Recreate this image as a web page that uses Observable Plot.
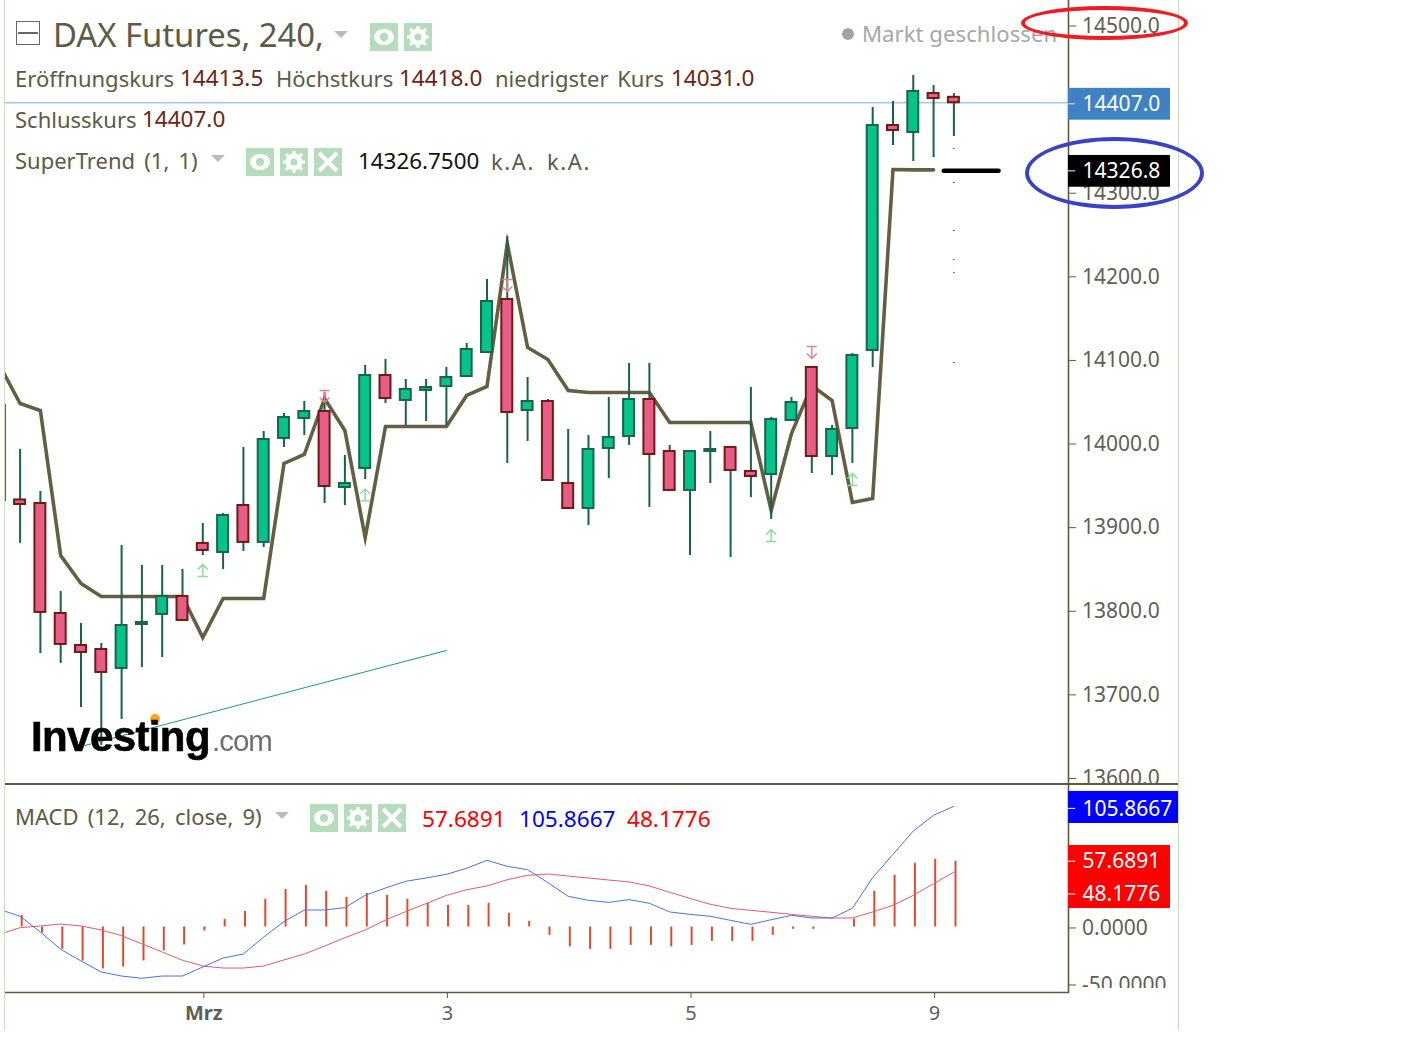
<!DOCTYPE html>
<html><head><meta charset="utf-8">
<script src="https://cdn.jsdelivr.net/npm/d3@7"></script>
<script src="https://cdn.jsdelivr.net/npm/@observablehq/plot@0.6"></script>
<style>
html,body{margin:0;padding:0;background:#fff;overflow:hidden}
#page{position:relative;width:1406px;height:1056px;overflow:hidden;font-family:"Noto Sans",sans-serif}
#page>svg{position:absolute;left:0;background:transparent}
.t{position:absolute;white-space:pre;line-height:40px;height:40px}
.o{position:absolute}
</style></head><body><div id="page"></div>
<script>
// ---- price panel data (candle index -1 is clipped at the left edge) ----
const openPrice=[14044.9,13931.9,13927.7,13796.2,13757.9,13753.1,13730.4,13783,13795,13816.5,13879.9,13869.1,13925.3,13881.1,14005.5,14029.4,14037.7,13946.8,13969.6,14080.8,14050.9,14062.9,14067.6,14079.6,14108.3,14171.7,14038.9,14049.7,13951.6,13921.7,13993.5,14007.8,14052.1,13989.9,13943.3,13989.9,13994.7,13966,13962.4,14027,14090.4,13983.9,14017.4,14110.7,14379.8,14371.4,14418.1,14413.5];
const closePrice=[13931.3,13926.5,13797.4,13759.1,13749.5,13725.6,13781.8,13785.4,13816.5,13787.8,13871.5,13913.4,13881.1,14004.3,14030.6,14037.7,13948,13951.6,14080.8,14053.3,14064.1,14066.4,14078.4,14111.9,14169.3,14036.5,14049.7,13955.2,13921.7,13992.3,14006.6,14052.1,13986.3,13943.3,13989.9,13992.3,13967.2,13960,14028.2,14048.5,13983.9,14016.2,14104.7,14379.8,14373.8,14420.5,14412.1,14407];
const highPrice=[14044.9,13992.3,13942.1,13822.5,13784.2,13760.3,13877.5,13853.6,13853.6,13848.8,13903.8,13915.8,13994.7,14013.8,14035.4,14049.7,14060.5,13985.1,14092.8,14099.9,14076,14076,14090.4,14119.1,14195.6,14247,14078.4,14052.1,14016.2,14009,14054.5,14095.2,14095.2,13997.1,13989.9,14013.8,13994.7,14066.4,14030.6,14054.5,14090.4,14021,14107.1,14401.3,14408.5,14439.6,14427.6,14418];
const lowPrice=[13931.3,13879.9,13748.3,13736.4,13683.7,13638.3,13669.4,13731.6,13743.5,13787.8,13865.5,13848.8,13870.3,13875.1,13994.7,14009,13927.7,13925.3,13956.4,14047.3,14021,14025.8,14021,14079.6,14108.3,13975.6,14001.9,13955.2,13921.7,13901.4,13957.6,13997.1,13922.9,13942.1,13865.5,13951.6,13863.1,13934.9,13908.6,14027,13963.6,13961.2,13975.6,14090.4,14355.9,14336.7,14341.5,14366.6];
const superTrend=[14092.8,14047.3,14038.9,13865.5,13832,13816.5,13816.5,13816.5,13816.5,13816.5,13767.4,13814.1,13814.1,13814.1,13975.6,13986.3,14053.3,14015,13887,14019.8,14019.8,14019.8,14019.8,14056.9,14067.6,14238.7,14114.3,14099.9,14062.9,14060.5,14060.5,14060.5,14060.5,14024.6,14024.6,14024.6,14024.6,14024.6,13919.3,14011.4,14068.8,14050.9,13928.9,13933.7,14327.2,14326.75,14326.75];
const superTrendNowIndex=[45.5,48.2];
const superTrendNow=[14326.75,14326.75];
const upIndex=[9,17,37,41];
const upPrice=[13847.6,13938,13889.4,13956.4];
const downIndex=[15,24,39];
const downPrice=[14055.7,14188.4,14108.3];
const speckPrice=[14352.3,14311.6,14254.2,14219.5,14204,14096.3];
const trendIndex=[3.2,21];
const trendPrice=[13638.3,13751.9];
const priceTicks=[14500,14300,14200,14100,14000,13900,13800,13700,13600];
const lastClose=14407;
// ---- MACD panel data (index -1 is the clipped start) ----
const histogram=[10.2,-5.3,-19.6,-29.8,-36.8,-35.1,-29.8,-21,-15.8,-3.5,6.7,13.7,24.3,33,36.5,31.3,26,29.5,27.8,24.3,20.8,19,19,20.8,12,5,-7.3,-17.5,-19.6,-19.6,-16.1,-16.1,-17.5,-16.1,-12.6,-12.6,-12.6,-7.3,-2,-2,0,7,31.3,45.3,55.9,59.4,57.6891];
const macdLine=[13.7,9.4,-4.4,-19.6,-29.8,-39.5,-43,-45,-43,-43,-35.1,-27.2,-23.7,-8.8,4.7,14.9,14.9,17,27.8,34.2,40.1,43,46.2,51.5,58.5,53.2,50.3,38.9,26.9,23.4,21.6,24,20.8,13.2,11.1,9.4,5.8,2.3,6.4,10.2,7.9,7.9,16.4,43.3,63.7,84.2,98,105.8667];
const signalLine=[-4.7,-0.6,0.9,2.6,0.9,-2.6,-7.6,-14.9,-21.9,-29.2,-34.2,-36,-36,-34.2,-28.9,-23.7,-16.7,-9.4,-2.6,6.1,13.5,20.5,27.8,32.7,36,41.5,45.3,46.5,44.7,43,41.2,39.5,36,30.4,25.1,19.9,16.4,14.6,12.9,11.1,9.4,7.9,7.9,13.2,19,27.8,38,48.1776];
const macdTicks=[0,-50];
// ---- time axis ----
const dayIndex=[21,33,45];
const dayLabels=["3","5","9"];
const monthIndex=[9];
const monthLabels=["Mrz"];

const firstIndex=-1, lineStart=-0.719;
const XD=[-0.719,51.646], tagX1=51.646, tagX2=56.67, tagX2b=57.07, tagTextX=52.34, tickEnd=52;
const FONT='"Noto Sans",sans-serif';
const AX="#5f5b3f";
const page=document.getElementById("page");

const candles=openPrice.map((o,k)=>({i:k+firstIndex,open:o,close:closePrice[k],high:highPrice[k],low:lowPrice[k]}));
const isUp=d=>d.close>d.open;
const st=superTrend.map((v,k)=>({i:k+firstIndex,v}));
const upSym={draw(c){c.moveTo(0,6);c.lineTo(0,-6);c.moveTo(-5,-1);c.lineTo(0,-6);c.lineTo(5,-1);c.moveTo(-5,6);c.lineTo(5,6);}};
const downSym={draw(c){c.moveTo(0,-6);c.lineTo(0,6);c.moveTo(-5,1);c.lineTo(0,6);c.lineTo(5,1);c.moveTo(-5,-6);c.lineTo(5,-6);}};

const priceTags=[{v:14407,label:"14407.0",fill:"#3f82c4"},{v:14326.75,label:"14326.8",fill:"#000"}];
const tagHalf=19;

const main=Plot.plot({
  width:1406,height:784,marginLeft:5,marginRight:338,marginTop:0,marginBottom:0,
  style:{background:"transparent",fontFamily:FONT,overflow:"hidden"},
  x:{domain:XD,axis:null},
  y:{domain:[13591.6,14529.3],axis:null},
  marks:[
    Plot.ruleY([lastClose],{stroke:"#a3c8ef",strokeWidth:1.4}),
    Plot.line(trendIndex.map((x,k)=>({x,y:trendPrice[k]})),{x:"x",y:"y",stroke:"#1f9a84",strokeWidth:1.1}),
    Plot.line(st,{x:"i",y:"v",stroke:"#645f42",strokeWidth:3.6,strokeLinejoin:"miter",strokeMiterlimit:8,clip:true}),
    Plot.ruleX(candles,{x:"i",y1:"low",y2:"high",stroke:"#17624a",strokeWidth:2,clip:true}),
    Plot.rect(candles.filter(isUp),{x1:d=>d.i-0.27,x2:d=>d.i+0.27,y1:"open",y2:"close",fill:"#06c389",stroke:"#1b6449",strokeWidth:2,clip:true}),
    Plot.rect(candles.filter(d=>!isUp(d)),{x1:d=>d.i-0.27,x2:d=>d.i+0.27,y1:"open",y2:"close",fill:"#e85c88",stroke:"#6d1c10",strokeWidth:2,clip:true}),
    Plot.dot(upIndex.map((x,k)=>({x,y:upPrice[k]})),{x:"x",y:"y",symbol:upSym,stroke:"#86dc90",fill:"none",strokeWidth:1.4}),
    Plot.dot(downIndex.map((x,k)=>({x,y:downPrice[k]})),{x:"x",y:"y",symbol:downSym,stroke:"#ee7c94",fill:"none",strokeWidth:1.4}),
    Plot.dot(speckPrice,{x:()=>46,y:d=>d,r:0.8,fill:"#17624a",stroke:"none"}),
    Plot.line(superTrendNowIndex.map((x,k)=>({x,y:superTrendNow[k]})),{x:"x",y:"y",stroke:"#000",strokeWidth:4.5,strokeLinecap:"round",dy:1}),
    Plot.ruleX([tagX1],{stroke:AX,strokeWidth:1.6}),
    Plot.axisY({anchor:"right",ticks:priceTicks,tickFormat:d=>d.toFixed(1),tickSize:7,tickPadding:6.5,fontSize:21,dy:1,color:"#5f5f55",label:null,stroke:"#5f5b3f"}),
    Plot.rect(priceTags,{x1:()=>tagX1,x2:()=>tagX2,y1:d=>d.v-tagHalf,y2:d=>d.v+tagHalf,fill:"fill",dy:1.5}),
    Plot.ruleY(priceTags,{y:"v",x1:()=>tagX1,x2:()=>tickEnd,stroke:"#cfcfcf",strokeWidth:1.2,dy:1}),
    Plot.text(priceTags,{x:()=>tagTextX,y:"v",text:"label",fill:"#fff",fontSize:21,textAnchor:"start",dy:1.5})
  ]
});
main.style.top="0px";
page.appendChild(main);

const rows=macdLine.map((m,k)=>({i:k+firstIndex,m,s:signalLine[k]}));
rows[0].i=lineStart;
const hist=histogram.map((v,k)=>({i:k,v}));
const macdBoxes=[{a:118.9,b:90.8,fill:"#0000ff"}];
const macdBoxesRed=[{a:71.5,b:16.2,fill:"#ff0000"}];
const macdTags=[{y:104,label:"105.8667"},{y:57.6891,label:"57.6891"},{y:29,label:"48.1776"}];

const macd=Plot.plot({
  width:1406,height:272,marginLeft:5,marginRight:338,marginTop:0,marginBottom:64,
  style:{background:"transparent",fontFamily:FONT},
  x:{domain:XD,axis:null},
  y:{domain:[-57.46,125],axis:null},
  marks:[
    Plot.ruleX(hist,{x:"i",y1:()=>0,y2:"v",stroke:"#e04a2e",strokeWidth:2,dx:1.6}),
    Plot.line(rows,{x:"i",y:"s",stroke:"#e4596d",strokeWidth:1,clip:true}),
    Plot.line(rows,{x:"i",y:"m",stroke:"#4a72d8",strokeWidth:1,clip:true}),
    Plot.axisY({anchor:"right",ticks:macdTicks,tickFormat:d=>d.toFixed(4),tickSize:7,tickPadding:6.5,fontSize:21,dy:1,color:"#5f5f55",label:null,stroke:"#5f5b3f"}),
    Plot.rect([0],{x1:()=>tagX1+0.05,x2:()=>tagX2b,y1:()=>-54,y2:()=>-90,fill:"#fff"}),
    Plot.ruleX([tagX1],{stroke:AX,strokeWidth:1.6}),
    Plot.frame({anchor:"bottom",stroke:AX,strokeWidth:1.6}),
    Plot.rect(macdBoxes,{x1:()=>tagX1,x2:()=>tagX2b,y1:"a",y2:"b",fill:"fill"}),
    Plot.rect(macdBoxesRed,{x1:()=>tagX1,x2:()=>tagX2,y1:"a",y2:"b",fill:"fill"}),
    Plot.text(macdTags,{x:()=>tagTextX,y:"y",text:"label",fill:"#fff",fontSize:21,textAnchor:"start",dy:0.5}),
    Plot.ruleY(macdTags,{y:"y",x1:()=>tagX1,x2:()=>tickEnd,stroke:"#e0e0e0",strokeWidth:1.2}),
    Plot.axisX({anchor:"bottom",ticks:monthIndex,tickFormat:(d,k)=>monthLabels[k],tickSize:6,tickPadding:7,fontSize:20,fontWeight:"bold",color:"#5f5f55",stroke:AX,label:null,dx:1}),
    Plot.axisX({anchor:"bottom",ticks:dayIndex,tickFormat:(d,k)=>dayLabels[k],tickSize:6,tickPadding:7,fontSize:20,color:"#5f5f55",stroke:AX,label:null,dx:1})
  ]
});
macd.style.top="784px";
page.appendChild(macd);

// ---- page furniture ----
function box(x,y,w,h,css){const d=document.createElement("div");d.className="o";d.style.cssText=`left:${x}px;top:${y}px;width:${w}px;height:${h}px;${css}`;page.appendChild(d);return d;}
function text(x,yc,size,html,css=""){const d=document.createElement("div");d.className="t";d.style.cssText=`left:${x}px;top:${yc-20}px;font-size:${size}px;${css}`;d.innerHTML=html;page.appendChild(d);return d;}
function tri(x,y,w,h){box(x,y,0,0,`border-left:${w/2}px solid transparent;border-right:${w/2}px solid transparent;border-top:${h}px solid #bdb9bf`);}
function icon(x,y,kind){
  const d=box(x,y,28,28,"background:#b5dcbd");
  const g={eye:'<ellipse cx="14" cy="14" rx="10" ry="8" fill="#fff"/><circle cx="14" cy="14" r="4.2" fill="#b5dcbd"/>',
    gear:'<circle cx="14" cy="14" r="6.5" fill="none" stroke="#fff" stroke-width="4"/><path d="M14 3v22M3 14h22M6 6l16 16M22 6L6 22" stroke="#fff" stroke-width="3"/><circle cx="14" cy="14" r="3.5" fill="#b5dcbd"/>',
    x:'<path d="M5 5L23 23M23 5L5 23" stroke="#fff" stroke-width="4"/>'}[kind];
  d.innerHTML=`<svg width="28" height="28" style="display:block">${g}</svg>`;
}
// frame edges
box(3.5,0,1.5,1030,"background:#c8e0c0");
box(1177.5,0,1.5,1030,"background:#c8e0c0");
box(5,783.2,1173,1.6,`background:${AX}`);
// collapse box
box(16,21,22,22,"border:1.5px solid #666;box-sizing:content-box");
box(18,32,20,1.5,"background:#666");
const G="#5d5a45", V="#6b2415";
const L=(x,yc,s,c,css="")=>text(x,yc,22,s,`color:${c};${css}`);
const N=(x,yc,s)=>text(x,yc,22.5,s,`color:${V}`);
text(53,35,32.8,"DAX Futures, 240,",`color:${G}`);
tri(334,31,15,7);
icon(370,23,"eye");icon(404,23,"gear");
box(842,28,12,12,"background:#a3a3a3;border-radius:50%");
text(862,33.5,22.2,"Markt geschlossen","color:#a6a8a6");
L(15,77.5,"Eröffnungskurs",G);
N(180,77.5,"14413.5");
L(276,77.5,"Höchstkurs",G);
N(399,77.5,"14418.0");
L(495,77.5,"niedrigster Kurs",G,"word-spacing:3px");
N(671,77.5,"14031.0");
L(15,118.5,"Schlusskurs",G);
N(142,118.5,"14407.0");
L(15,160,"SuperTrend (1, 1)",G,"word-spacing:3.5px");
tri(211,155,15,7);
icon(246,148,"eye");icon(280,148,"gear");icon(314,148,"x");
text(358,161,22.4,"14326.7500","color:#111");
L(491,161,"k.A.",G,"letter-spacing:1.6px");
L(547,161,"k.A.",G,"letter-spacing:1.6px");
L(15,816,"MACD (12, 26, close, 9)",G,"word-spacing:3.5px");
tri(275,812,15,7);
icon(310,804,"eye");icon(344,804,"gear");icon(378,804,"x");
text(422,818.5,22.6,"57.6891","color:#f00");
text(519,818.5,22.6,"105.8667","color:#00f");
text(627,818.5,22.6,"48.1776","color:#f00");
// logo
box(150,714,10,10,"background:#f5a623;border-radius:50%");
text(31,737,42,"Investing",'font-family:"Liberation Sans";font-weight:bold;color:#000;letter-spacing:-0.6px;-webkit-text-stroke:.6px #000;filter:blur(.4px)');
text(212,741,29.5,".com",'font-family:"Liberation Sans";color:#6f6f78;letter-spacing:-1px;filter:blur(.4px)');
// annotation ellipses
box(1021,6,167,34,"box-sizing:border-box;border:4px solid #ee1c24;border-radius:50%");
box(1025,137,179,72,"box-sizing:border-box;border:4px solid #3a42c8;border-radius:50%");
</script></body></html>
